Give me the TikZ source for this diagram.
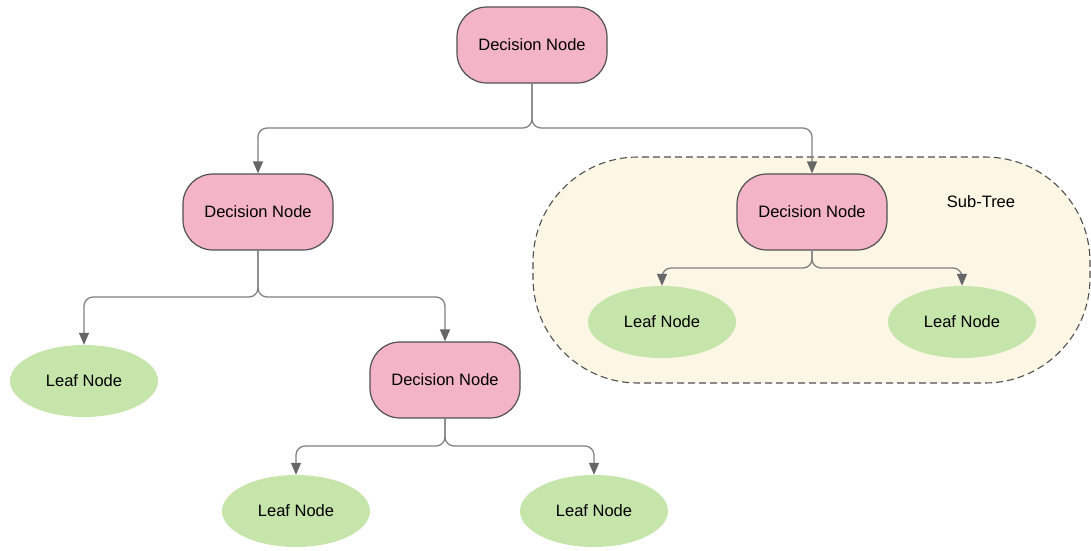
\documentclass[tikz,border=0pt]{standalone}
\usepackage{fontspec}
\setmainfont{Liberation Sans}
\usetikzlibrary{arrows.meta,shapes.geometric}
\definecolor{pinkfill}{HTML}{F4B4C8}
\definecolor{leaffill}{HTML}{C6E5AB}
\definecolor{subfill}{HTML}{FCF6E4}
\definecolor{edgegray}{HTML}{808080}
\definecolor{tipgray}{HTML}{666666}
\definecolor{bordergray}{HTML}{505050}
\begin{document}
\begin{tikzpicture}[x=1pt,y=-1pt,
  decision/.style={draw=bordergray,line width=1.2pt,fill=pinkfill,rounded corners=30pt,
    minimum width=150pt,minimum height=76pt,inner sep=0pt,font=\fontsize{16.5}{19}\selectfont},
  leaf/.style={ellipse,fill=leaffill,minimum width=148pt,minimum height=72pt,inner sep=0pt,
    font=\fontsize{16.5}{19}\selectfont},
  conn/.style={draw=edgegray,line width=1.3pt,rounded corners=9pt,
    -{Triangle[width=10pt,length=12pt,fill=tipgray,color=tipgray]}},
  subtree/.style={draw=bordergray,line width=1.1pt,dash pattern=on 7pt off 4pt,fill=subfill,rounded corners=105pt}]
\useasboundingbox (0,0) rectangle (1091,550);
\path[subtree] (533,157) rectangle (1090,383);
\node[font=\fontsize{16.5}{19}\selectfont] (st) at (981,202) {Sub-Tree};
\node[decision] (d1) at (532,45) {Decision Node};
\node[decision] (d2) at (258,212) {Decision Node};
\node[decision] (d3) at (812,212) {Decision Node};
\node[decision] (d4) at (445,380) {Decision Node};
\node[leaf] (l1) at (84,381) {Leaf Node};
\node[leaf] (l2) at (296,511) {Leaf Node};
\node[leaf] (l3) at (594,511) {Leaf Node};
\node[leaf] (l4) at (662,322) {Leaf Node};
\node[leaf] (l5) at (962,322) {Leaf Node};
\draw[conn] (d1.south) -- (532,128) -| (d2.north);
\draw[conn] (d1.south) -- (532,128) -| (d3.north);
\draw[conn] (d2.south) -- (258,297) -| (l1.north);
\draw[conn] (d2.south) -- (258,297) -| (d4.north);
\draw[conn] (d3.south) -- (812,268) -| (l4.north);
\draw[conn] (d3.south) -- (812,268) -| (l5.north);
\draw[conn] (d4.south) -- (445,446) -| (l2.north);
\draw[conn] (d4.south) -- (445,446) -| (l3.north);
\end{tikzpicture}
\end{document}
